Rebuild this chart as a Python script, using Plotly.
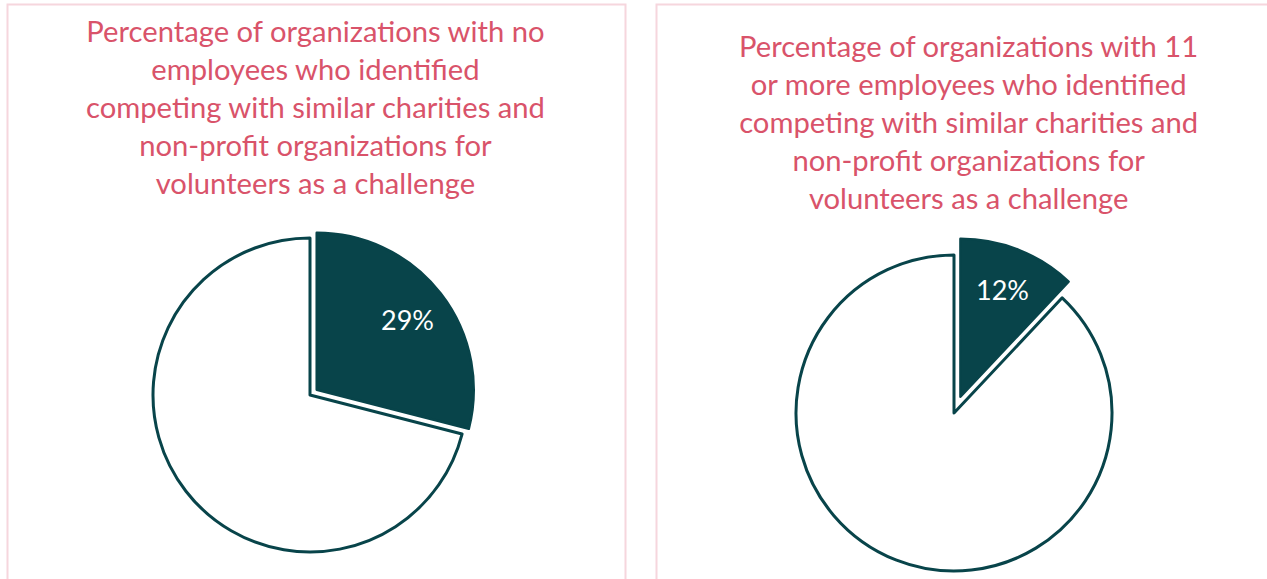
import math
import plotly.graph_objects as go

LABELS = ["Identified as a challenge", "Did not identify"]
NO_EMP_VALUES = [29, 71]
ELEVEN_PLUS_VALUES = [12, 88]

TITLE_LEFT = ("Percentage of organizations with no<br>employees who identified<br>"
              "competing with similar charities and<br>non-profit organizations for<br>"
              "volunteers as a challenge")
TITLE_RIGHT = ("Percentage of organizations with 11<br>or more employees who identified<br>"
               "competing with similar charities and<br>non-profit organizations for<br>"
               "volunteers as a challenge")

W, H = 1267, 579
TEAL = "#08444A"
PINK = "#D9536A"
BORDER = "#F6D6DD"
FONT = "Lato"


def px(x):
    return x / W


def py(y):
    return 1 - y / H


def dom(cx, cy, r):
    # pixel centre/radius -> paper domain
    return dict(x=[px(cx - r), px(cx + r)], y=[py(cy + r), py(cy - r)])


def add_pie(fig, values, cx, cy, r, explode):
    share = values[0] / sum(values)
    mid = share * math.pi  # clockwise from 12 o'clock
    dx, dy = explode * math.sin(mid), -explode * math.cos(mid)

    # base pie: white slice with teal outline, highlighted slice left empty
    fig.add_trace(go.Pie(
        labels=LABELS, values=values, sort=False, direction="clockwise",
        rotation=0, domain=dom(cx, cy, r),
        marker=dict(colors=["rgba(0,0,0,0)", "white"],
                    line=dict(color=[TEAL, TEAL], width=[0, 3])),
        textinfo="none", hoverinfo="label+percent", showlegend=False,
    ))
    # exploded slice, shifted outwards along its mid angle
    fig.add_trace(go.Pie(
        labels=LABELS, values=values, sort=False, direction="clockwise",
        rotation=0, domain=dom(cx + dx, cy + dy, r),
        marker=dict(colors=[TEAL, "rgba(0,0,0,0)"],
                    line=dict(color=[TEAL, "rgba(0,0,0,0)"], width=[2.5, 0])),
        textinfo="none", hoverinfo="label+percent", showlegend=False,
    ))
    # data label, Excel-style at a fixed fraction of the radius
    lr = 0.73 * r
    fig.add_annotation(
        text=f"{share * 100:.0f}%", showarrow=False,
        x=px(cx + dx + lr * math.sin(mid)), y=py(cy + dy - lr * math.cos(mid)),
        xref="paper", yref="paper", xanchor="center", yanchor="middle",
        font=dict(family=FONT, size=27, color="white"),
    )


fig = go.Figure()
add_pie(fig, NO_EMP_VALUES, 310, 395, 157, 8.5)
add_pie(fig, ELEVEN_PLUS_VALUES, 954, 413, 158, 17.5)

fig.add_shape(type="rect", xref="paper", yref="paper",
              x0=px(7.5), x1=px(625.5), y0=-0.05, y1=py(4.5),
              line=dict(color=BORDER, width=2), fillcolor="rgba(0,0,0,0)", layer="below")
fig.add_shape(type="rect", xref="paper", yref="paper",
              x0=px(656.5), x1=1.05, y0=-0.05, y1=py(4.5),
              line=dict(color=BORDER, width=2), fillcolor="rgba(0,0,0,0)", layer="below")

fig.add_annotation(text=TITLE_LEFT, x=px(315.5), y=py(106), xref="paper", yref="paper",
                   showarrow=False, align="center", xanchor="center", yanchor="middle",
                   font=dict(family=FONT, size=29.2, color=PINK))
fig.add_annotation(text=TITLE_RIGHT, x=px(968.5), y=py(121.5), xref="paper", yref="paper",
                   showarrow=False, align="center", xanchor="center", yanchor="middle",
                   font=dict(family=FONT, size=29.2, color=PINK))

fig.update_layout(
    width=W, height=H,
    margin=dict(l=0, r=0, t=0, b=0),
    paper_bgcolor="white", plot_bgcolor="white",
)

# drop the browser's default body margin so the figure sits at the page corner
fig.write_html("out.html", config={"displayModeBar": False},
               post_script="document.body.style.margin='0';")
